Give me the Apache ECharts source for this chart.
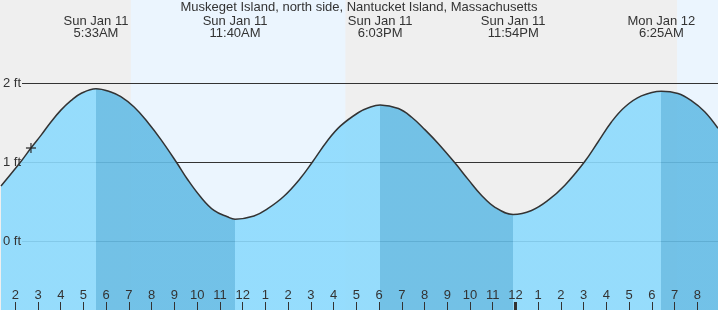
<!DOCTYPE html>
<html>
<head>
<meta charset="utf-8">
<script src="https://cdn.jsdelivr.net/npm/echarts@6/dist/echarts.min.js"></script>
<style>
html,body{margin:0;padding:0;background:#efefef;}
#chart{width:718px;height:310px;}
</style>
</head>
<body>
<div id="chart"></div>
<script>
// ---- data (hours since midnight Sun Jan 11) ----
const titleText = 'Muskeget Island, north side, Nantucket Island, Massachusetts';
const tideTimes = [1.372, 2.250, 2.690, 3.129, 3.568, 4.007, 4.447, 4.886, 5.55, 6.204, 6.643, 7.227, 7.815, 8.400, 9.089, 9.572, 10.157, 10.741, 11.329, 11.667, 12.498, 13.086, 13.816, 14.549, 15.063, 15.722, 16.306, 17.097, 17.536, 18.05, 18.853, 19.437, 20.026, 20.610, 21.344, 21.928, 22.512, 23.101, 23.9, 24.708, 25.442, 26.175, 27.023, 27.638, 28.222, 28.811, 29.540, 30.417, 31.151, 31.736, 32.324, 32.909];
const tideHeights = [0.70, 1.01, 1.18, 1.34, 1.51, 1.66, 1.78, 1.87, 1.93, 1.89, 1.83, 1.70, 1.51, 1.29, 1.00, 0.785, 0.56, 0.39, 0.31, 0.28, 0.32, 0.41, 0.57, 0.80, 1.00, 1.27, 1.46, 1.63, 1.69, 1.725, 1.68, 1.57, 1.41, 1.235, 0.99, 0.78, 0.58, 0.43, 0.34, 0.39, 0.52, 0.71, 1.00, 1.26, 1.51, 1.70, 1.84, 1.90, 1.87, 1.78, 1.64, 1.43];
const extremeTimes = [5.55, 11.667, 18.05, 23.9, 30.417];
const extremeDates = ['Sun Jan 11', 'Sun Jan 11', 'Sun Jan 11', 'Sun Jan 11', 'Mon Jan 12'];
const extremeClock = ['5:33AM', '11:40AM', '6:03PM', '11:54PM', '6:25AM'];
const highTimes = [5.55, 18.05, 30.417];
const lowTimes = [11.667, 23.9];
const sunriseTimes = [7.08, 31.11];
const sunsetTimes = [16.53];
const nowTime = 2.69;
const nowHeight = 1.18;
const hourTicks = [2,3,4,5,6,7,8,9,10,11,12,13,14,15,16,17,18,19,20,21,22,23,24,25,26,27,28,29,30,31,32];
const hourLabels = ['2','3','4','5','6','7','8','9','10','11','12','1','2','3','4','5','6','7','8','9','10','11','12','1','2','3','4','5','6','7','8'];
const midnightTicks = [24];
const footTicks = [0, 1, 2];
const footLabels = ['0 ft', '1 ft', '2 ft'];

// ---- view ----
const X_MIN = 1.372, X_MAX = 32.909, Y_MIN = -0.87, Y_MAX = 3.054;
const FONT = '"Liberation Sans", Arial, sans-serif';
const TXT = '#333333';
const NIGHT = '#efefef', DAY = '#ebf5fe';
const LIGHT = '#8cdafd', DARK = '#65bce5';

const tideData = tideTimes.map((t, i) => [t, tideHeights[i]]);

// day/night background areas
const edges = [X_MIN, sunriseTimes[0], sunsetTimes[0], sunriseTimes[1], X_MAX];
const bgAreas = [];
for (let i = 0; i < edges.length - 1; i++) {
  bgAreas.push([{xAxis: edges[i], yAxis: Y_MIN, itemStyle: {color: i % 2 === 0 ? NIGHT : DAY}}, {xAxis: edges[i + 1], yAxis: Y_MAX}]);
}

// falling tide (high -> low) darker pieces
const bounds = extremeTimes.slice();
const pieces = [];
pieces.push({lt: bounds[0], color: LIGHT});
for (let i = 0; i < bounds.length; i++) {
  const isHigh = highTimes.indexOf(bounds[i]) >= 0;
  const p = {gte: bounds[i], color: isHigh ? DARK : LIGHT};
  if (i + 1 < bounds.length) p.lt = bounds[i + 1];
  pieces.push(p);
}

function nearestIndex(arr, v) {
  let best = 0;
  for (let i = 1; i < arr.length; i++) if (Math.abs(arr[i] - v) < Math.abs(arr[best] - v)) best = i;
  return best;
}

const chart = echarts.init(document.getElementById('chart'), null, {renderer: 'canvas'});
chart.setOption({
  animation: false,
  backgroundColor: NIGHT,
  textStyle: {fontFamily: FONT},
  title: {
    text: titleText, left: 'center', top: 0, padding: 0,
    textStyle: {fontSize: 13, fontWeight: 'normal', color: TXT, fontFamily: FONT, lineHeight: 15}
  },
  grid: [
    {left: 0, right: 0, top: 0, bottom: 0},
    {left: 22, right: 0, top: 0, bottom: 0}
  ],
  xAxis: [
    {
      gridIndex: 0, type: 'value', min: X_MIN, max: X_MAX, position: 'bottom', z: 10,
      axisLine: {show: false, onZero: false}, splitLine: {show: false},
      axisTick: {show: true, inside: true, length: 8, customValues: hourTicks, lineStyle: {color: TXT, width: 1}},
      axisLabel: {show: true, inside: true, margin: 8, customValues: hourTicks, color: TXT, fontSize: 13, fontFamily: FONT,
        formatter: v => hourLabels[nearestIndex(hourTicks, v)]}
    },
    {
      gridIndex: 0, type: 'value', min: X_MIN, max: X_MAX, position: 'bottom', z: 10,
      axisLine: {show: false, onZero: false}, splitLine: {show: false}, axisLabel: {show: false},
      axisTick: {show: true, inside: true, length: 8, customValues: midnightTicks, lineStyle: {color: TXT, width: 3}}
    },
    {
      gridIndex: 0, type: 'value', min: X_MIN, max: X_MAX, position: 'top', z: 10,
      axisLine: {show: false, onZero: false}, splitLine: {show: false}, axisTick: {show: false},
      axisLabel: {show: true, inside: true, margin: 15, customValues: extremeTimes, color: TXT, fontSize: 13, fontFamily: FONT, lineHeight: 12.5, align: 'center',
        formatter: v => { const i = nearestIndex(extremeTimes, v); return extremeDates[i] + '\n' + extremeClock[i]; }}
    },
    {gridIndex: 1, type: 'value', min: X_MIN, max: X_MAX, show: false}
  ],
  yAxis: [
    {
      gridIndex: 0, type: 'value', min: Y_MIN, max: Y_MAX, position: 'left', z: 10,
      axisLine: {show: false, onZero: false}, axisTick: {show: false}, splitLine: {show: false},
      axisLabel: {show: true, inside: true, margin: 2, customValues: footTicks, color: TXT, fontSize: 13, fontFamily: FONT,
        formatter: v => footLabels[nearestIndex(footTicks, v)]}
    },
    {gridIndex: 1, type: 'value', min: Y_MIN, max: Y_MAX, show: false}
  ],
  visualMap: {
    type: 'piecewise', show: false, dimension: 0, seriesIndex: 2, pieces: pieces
  },
  series: [
    {
      type: 'line', xAxisIndex: 0, yAxisIndex: 0, z: 0, data: [], silent: true,
      markArea: {silent: true, z: 0, data: bgAreas}
    },
    {
      type: 'line', xAxisIndex: 3, yAxisIndex: 1, z: 1, data: [], silent: true,
      markLine: {silent: true, z: 1, symbol: 'none', label: {show: false},
        lineStyle: {color: TXT, width: 1, type: 'solid'},
        data: footTicks.map(v => ({yAxis: v}))}
    },
    {
      type: 'line', xAxisIndex: 0, yAxisIndex: 0, z: 2, data: tideData, smooth: 0.4, symbol: 'none',
      lineStyle: {width: 0},
      areaStyle: {opacity: 0.9, origin: 'start'}
    },
    {
      type: 'line', xAxisIndex: 0, yAxisIndex: 0, z: 3, data: tideData, smooth: 0.4, symbol: 'none',
      lineStyle: {color: '#333333', width: 1.5}
    },
    {
      type: 'scatter', xAxisIndex: 0, yAxisIndex: 0, z: 4, data: [[nowTime, nowHeight]],
      symbol: 'path://M4.3,0h1.4v4.3h4.3v1.4h-4.3v4.3h-1.4v-4.3h-4.3v-1.4h4.3z', symbolSize: 10,
      itemStyle: {color: '#222222'}
    }
  ]
});
</script>
</body>
</html>
